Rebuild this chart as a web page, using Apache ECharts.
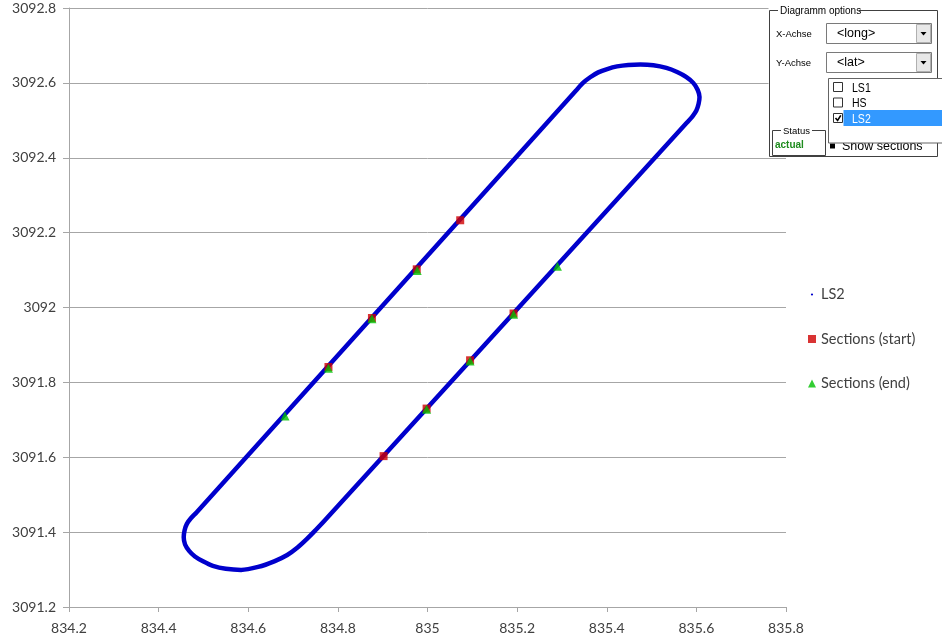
<!DOCTYPE html>
<html>
<head>
<meta charset="utf-8">
<script src="https://cdn.jsdelivr.net/npm/echarts@6/dist/echarts.min.js"></script>
<style>
  html, body { margin: 0; padding: 0; background: #fff; }
  #chart { width: 942px; height: 639px; }
</style>
</head>
<body>
<div id="chart"></div>
<script>
// Track LS2: closed loop of [long, lat] positions (top turn, right leg, bottom turn, left leg)
const ls2Long = [835.332, 835.347, 835.363, 835.381, 835.401, 835.423, 835.448, 835.475, 835.504, 835.533, 835.557, 835.577,
                 835.593, 835.603, 835.607, 835.605, 835.600, 835.591, 835.579,
                 834.769, 834.750, 834.731, 834.710, 834.687, 834.658, 834.622, 834.584, 834.550, 834.521, 834.499, 834.481,
                 834.468, 834.459, 834.456, 834.458, 834.463, 834.472, 834.485,
                 835.332];
const ls2Lat  = [3092.580, 3092.600, 3092.615, 3092.628, 3092.637, 3092.644, 3092.648, 3092.649, 3092.647, 3092.640, 3092.629, 3092.616,
                 3092.600, 3092.581, 3092.562, 3092.544, 3092.526, 3092.510, 3092.494,
                 3091.429, 3091.405, 3091.382, 3091.359, 3091.339, 3091.322, 3091.307, 3091.299, 3091.302, 3091.310, 3091.322, 3091.335,
                 3091.350, 3091.367, 3091.386, 3091.405, 3091.422, 3091.437, 3091.453,
                 3092.580];

// Section start points
const startLong = [835.073, 834.976, 834.876, 834.779, 835.192, 835.095, 834.998, 834.902];
const startLat  = [3092.233, 3092.102, 3091.972, 3091.841, 3091.984, 3091.859, 3091.730, 3091.603];

// Section end points
const endLong = [834.977, 834.876, 834.779, 834.682, 835.290, 835.192, 835.095, 834.998];
const endLat  = [3092.099, 3091.970, 3091.838, 3091.710, 3092.110, 3091.982, 3091.857, 3091.728];

// Axis tick labels
const xTickLabels = ['834.2', '834.4', '834.6', '834.8', '835', '835.2', '835.4', '835.6', '835.8'];
const yTickLabels = ['3091.2', '3091.4', '3091.6', '3091.8', '3092', '3092.2', '3092.4', '3092.6', '3092.8'];

// Legend / series names
const seriesNames = ['LS2', 'Sections (start)', 'Sections (end)'];

// Options panel contents
const listItems = ['LS1', 'HS', 'LS2'];
const listChecked = [false, false, true];

const zip = (a, b) => a.map((v, i) => [v, b[i]]);
const pickLabel = (labels) => (v) => labels.find(l => Math.abs(parseFloat(l) - v) < 1e-6) || '';

const AXIS_GREY = '#a6a6a6';
const LABEL_FONT = 'Lato, "Open Sans", sans-serif';
const UI_FONT = '"Liberation Sans", Arial, sans-serif';

// Small path icon: a tiny dot inside an otherwise empty 10x10 box
const dotIcon = 'path://M0,0L0.01,0L0.01,0.01ZM10,10L9.99,10L9.99,9.99ZM5,3.6A1.4,1.4,0,1,1,5,6.4A1.4,1.4,0,1,1,5,3.6Z';

// ---- options panel drawn on top of the chart ----
const ui = [];
const Z = 100;
function rect(x, y, w, h, fill, stroke, lw) {
  ui.push({ type: 'rect', z: Z, shape: { x, y, width: w, height: h },
            style: { fill: fill || 'none', stroke: stroke || null, lineWidth: lw || 1 } });
}
function line(points, stroke, lw) {
  ui.push({ type: 'polyline', z: Z, shape: { points }, style: { stroke, lineWidth: lw || 1, fill: null } });
}
function text(x, y, str, opts) {
  opts = opts || {};
  ui.push({ type: 'text', z: opts.z || Z + 1, x, y, scaleX: opts.sx || 1,
            style: { text: str, x: 0, y: 0, fill: opts.color || '#000',
                     font: (opts.weight || 'normal') + ' ' + (opts.size || 10) + 'px ' + UI_FONT,
                     textAlign: 'left', textVerticalAlign: 'middle' } });
}

// panel background and group frame
rect(768.5, 2, 174, 156, '#fff', null);
line([[778, 10.5], [769.5, 10.5], [769.5, 156.5], [937.5, 156.5], [937.5, 10.5], [859, 10.5]], '#404040');
text(780, 11, 'Diagramm options', { size: 10 });

// axis selectors
text(776, 34, 'X-Achse', { size: 9.5 });
text(776, 63, 'Y-Achse', { size: 9.5 });
[[23.5, '<long>'], [52.5, '<lat>']].forEach(([y, label]) => {
  rect(826.5, y, 105, 20, '#fff', '#7a7a7a');
  rect(916.5, y + 1, 14, 18, '#e8e8e8', '#b0b0b0');
  ui.push({ type: 'polygon', z: Z + 1, shape: { points: [[920.5, y + 8.5], [926.5, y + 8.5], [923.5, y + 12]] },
            style: { fill: '#000' } });
  text(837, y + 10, label, { size: 12.5 });
});

// status group
line([[781, 130.5], [772.5, 130.5], [772.5, 155.5], [825.5, 155.5], [825.5, 130.5], [812, 130.5]], '#404040');
text(783, 131, 'Status', { size: 9.5 });
text(775, 145.5, 'actual', { size: 10, weight: 'bold', color: '#1e8c1e' });

// "Show sections" checkbox, partly hidden under the list box
rect(830, 143.5, 5, 5, '#000', null);
text(842, 146.5, 'Show sections', { size: 12.5, z: Z });

// series list box (drawn above the checkbox text)
ui.push({ type: 'rect', z: Z + 2, shape: { x: 828.5, y: 78.5, width: 120, height: 64.5 },
          style: { fill: '#fff', stroke: '#646464', lineWidth: 1 } });
listItems.forEach((name, i) => {
  const cy = 87 + i * 15.5;
  const zz = Z + 3;
  if (listChecked[i]) ui.push({ type: 'rect', z: zz, shape: { x: 843.5, y: cy - 8, width: 100, height: 16 }, style: { fill: '#3399ff' } });
  ui.push({ type: 'rect', z: zz, shape: { x: 833.5, y: cy - 4.5, width: 9, height: 9 }, style: { fill: '#fff', stroke: '#333', lineWidth: 1 } });
  if (listChecked[i]) ui.push({ type: 'polyline', z: zz + 1, shape: { points: [[835.5, cy], [837.6, cy + 2.5], [840.8, cy - 2.6]] },
                                style: { stroke: '#000', lineWidth: 1.6, fill: null } });
  text(852, cy + 1, name, { size: 13.5, sx: 0.78, color: listChecked[i] ? '#fff' : '#000', z: zz + 1 });
});

const chart = echarts.init(document.getElementById('chart'), null, { renderer: 'canvas' });
chart.setOption({
  animation: false,
  backgroundColor: '#fff',
  grid: { left: 69, right: 156, top: 8, bottom: 32, containLabel: false },
  xAxis: {
    type: 'value', min: 834.2, max: 835.8, interval: 0.2,
    axisLine: { show: true, onZero: false, lineStyle: { color: AXIS_GREY, width: 1 } },
    axisTick: { show: true, length: 5, lineStyle: { color: AXIS_GREY } },
    splitLine: { show: false },
    axisLabel: { formatter: pickLabel(xTickLabels), color: '#404040', fontSize: 14, fontFamily: LABEL_FONT, margin: 14 }
  },
  yAxis: {
    type: 'value', min: 3091.2, max: 3092.8, interval: 0.2,
    axisLine: { show: true, onZero: false, lineStyle: { color: AXIS_GREY, width: 1 } },
    axisTick: { show: true, length: 6, lineStyle: { color: AXIS_GREY } },
    splitLine: { show: true, lineStyle: { color: AXIS_GREY, width: 1 } },
    axisLabel: { formatter: pickLabel(yTickLabels), color: '#404040', fontSize: 14, fontFamily: LABEL_FONT, margin: 13 }
  },
  legend: {
    orient: 'vertical', left: 803, top: 282, itemWidth: 8, itemHeight: 8, itemGap: 29.5,
    textStyle: { color: '#404040', fontSize: 14.5, fontFamily: LABEL_FONT },
    data: [
      { name: seriesNames[0], icon: dotIcon },
      { name: seriesNames[1], icon: 'rect' },
      { name: seriesNames[2], icon: 'triangle' }
    ]
  },
  series: [
    {
      name: seriesNames[0], type: 'line', data: zip(ls2Long, ls2Lat),
      showSymbol: false, symbol: 'circle', symbolSize: 3, smooth: 0.3,
      itemStyle: { color: '#0000cc' },
      lineStyle: { color: '#0000cc', width: 4.5, join: 'round', cap: 'round' },
      z: 2
    },
    {
      name: seriesNames[1], type: 'scatter', data: zip(startLong, startLat),
      symbol: 'rect', symbolSize: 8, itemStyle: { color: '#d00000' }, z: 3
    },
    {
      name: seriesNames[2], type: 'scatter', data: zip(endLong, endLat),
      symbol: 'triangle', symbolSize: 9, itemStyle: { color: '#00c000' }, z: 4
    }
  ],
  graphic: { elements: ui }
});
</script>
</body>
</html>
